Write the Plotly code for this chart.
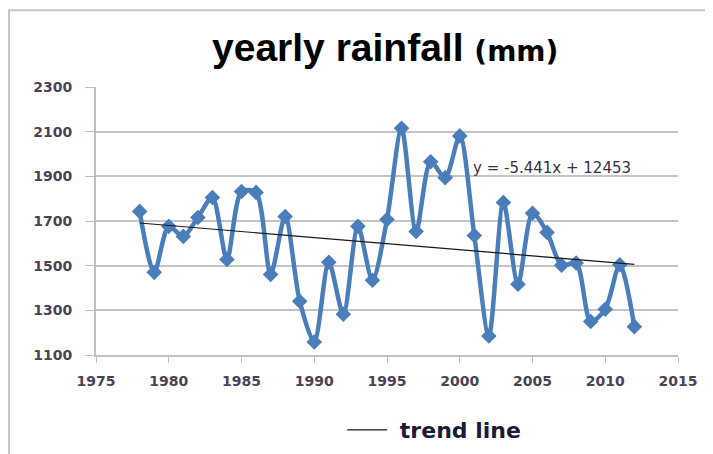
import plotly.graph_objects as go

years = list(range(1978, 2013))
rainfall = [1743, 1470, 1676, 1631, 1716, 1805, 1528, 1832, 1828, 1461,
            1720, 1341, 1158, 1515, 1283, 1676, 1435, 1707, 2115, 1653,
            1965, 1894, 2081, 1635, 1185, 1783, 1417, 1735, 1649, 1502,
            1512, 1250, 1305, 1504, 1227]
trend_years = [1978, 2012]
trend_values = [1691, 1506]
trend_label = "y = -5.441x + 12453"
trend_name = "trend line"
title_text = "yearly rainfall"
title_unit = "(mm)"
x_ticks = [1975, 1980, 1985, 1990, 1995, 2000, 2005, 2010, 2015]
y_ticks = [1100, 1300, 1500, 1700, 1900, 2100, 2300]

blue = "#4a7ebb"
tick_font = dict(family="DejaVu Sans", size=14, color="#4a4256", weight="bold")

fig = go.Figure()
fig.add_trace(go.Scatter(
    x=years, y=rainfall, mode="lines+markers",
    line=dict(color=blue, width=4.5, shape="spline", smoothing=0.8),
    marker=dict(symbol="diamond", size=12, color=blue),
    showlegend=False, name="rainfall"))
fig.add_trace(go.Scatter(
    x=trend_years, y=trend_values, mode="lines",
    line=dict(color="#1a1a1a", width=1.2),
    name="\u00a0" + trend_name, showlegend=True))

fig.update_layout(
    width=713, height=454,
    margin=dict(l=88, r=43, t=79, b=106),
    paper_bgcolor="white", plot_bgcolor="white",
    title=dict(text=f"<b>{title_text}</b> <b><span style='font-family:DejaVu Sans;font-size:28px'>{title_unit}</span></b>",
               x=0.529, xanchor="center", y=0.914, yanchor="middle",
               font=dict(family="Liberation Sans, Arial", size=39, color="#000")),
    xaxis=dict(range=[1975, 2015], tickvals=x_ticks, ticktext=[str(v) for v in x_ticks],
               showgrid=False, zeroline=False, showline=True, linecolor="#bfbfbf", linewidth=2,
               ticks="outside", ticklen=6, tickcolor="#bfbfbf", tickwidth=1,
               ticklabelstandoff=6, tickfont=tick_font),
    yaxis=dict(range=[1100, 2300], tickvals=y_ticks, ticktext=[str(v) for v in y_ticks],
               showgrid=True, gridcolor="#c4c4c4", gridwidth=2, zeroline=False,
               showline=True, linecolor="#bfbfbf", linewidth=2,
               ticks="outside", ticklen=9, tickcolor="#bfbfbf", tickwidth=1,
               ticklabelstandoff=10, tickfont=tick_font),
    legend=dict(orientation="h", x=0.423, xanchor="left", y=-0.275, yanchor="middle",
                font=dict(family="DejaVu Sans", size=22, color="#1a1a3a", weight="bold"),
                itemwidth=40, bgcolor="rgba(0,0,0,0)"),
    showlegend=True,
)
fig.add_annotation(x=2000.8, y=1939, text=trend_label, showarrow=False,
                   xanchor="left", yanchor="middle",
                   font=dict(family="DejaVu Sans", size=15, color="#3a3040"))
fig.add_shape(type="rect", xref="paper", yref="paper",
              x0=-0.1495, x1=1.2, y0=-0.5, y1=1.286,
              line=dict(color="#c8c8c8", width=2), fillcolor="rgba(0,0,0,0)", layer="below")

fig.write_html("out.html")
